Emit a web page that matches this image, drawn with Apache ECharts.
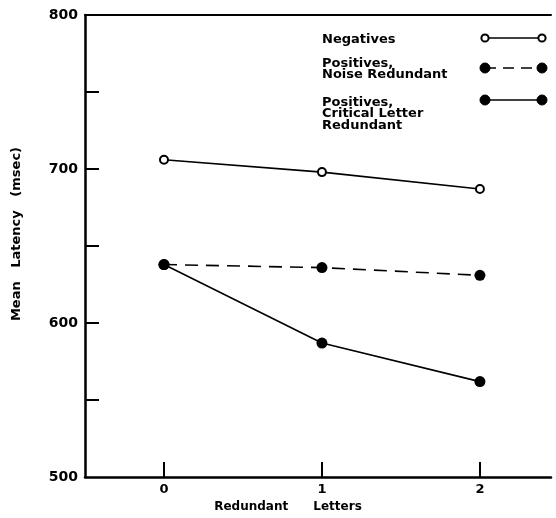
<!DOCTYPE html>
<html>
<head>
<meta charset="utf-8">
<script src="https://cdn.jsdelivr.net/npm/echarts@6/dist/echarts.min.js"></script>
<style>html,body{margin:0;padding:0;background:#fff;}#c{width:556px;height:518px;}</style>
</head>
<body>
<div id="c"></div>
<script>
const xValues = [0, 1, 2];
const negatives = [706, 698, 687];
const noiseRedundant = [638, 636, 631];
const criticalRedundant = [638, 587, 562];
const yTickValues = [550, 600, 650, 700, 750];
const yLabelValues = [500, 600, 700, 800];
const legendLabels = ['Negatives', 'Positives,\nNoise Redundant', 'Positives,\nCritical Letter\nRedundant'];

const FONT = '"DejaVu Sans", sans-serif';
const chart = echarts.init(document.getElementById('c'), null, {renderer: 'canvas'});

function pairs(vals) { return xValues.map((x, i) => [x, vals[i]]); }

const lineBase = {type: 'line', animation: false, silent: true};

const legendRows = [
  {text: legendLabels[0], ty: 33, sy: 38, dash: false, empty: true},
  {text: legendLabels[1], ty: 57, sy: 68, dash: true, empty: false},
  {text: legendLabels[2], ty: 96, sy: 100, dash: false, empty: false}
];
const graphic = [];
legendRows.forEach(r => {
  graphic.push({type: 'text', left: 322, top: r.ty, style: {text: r.text, font: 'bold 13px ' + FONT, lineHeight: 11.5, fill: '#000'}});
  graphic.push({type: 'line', shape: {x1: 485, y1: r.sy, x2: 542, y2: r.sy}, style: {stroke: '#000', lineWidth: 1.6, lineDash: r.dash ? [11, 7] : null}});
  [485, 542].forEach(cx => {
    graphic.push({type: 'circle', shape: {cx: cx, cy: r.sy, r: r.empty ? 3.6 : 5}, style: {fill: r.empty ? '#fff' : '#000', stroke: '#000', lineWidth: r.empty ? 2 : 1}});
  });
});

chart.setOption({
  backgroundColor: '#fff',
  animation: false,
  grid: {left: 85, right: 5, top: 15, bottom: 36, containLabel: false},
  xAxis: [{
    type: 'value', min: -0.5, max: 2.45, interval: 0.5,
    splitLine: {show: false},
    axisLine: {show: true, onZero: false, lineStyle: {color: '#000', width: 2.5}},
    axisTick: {show: true, inside: true, length: 15, customValues: xValues, lineStyle: {color: '#000', width: 2}},
    axisLabel: {customValues: xValues, color: '#000', fontFamily: FONT, fontWeight: 'bold', fontSize: 13, margin: 6},
    name: 'Redundant      Letters', nameLocation: 'middle', nameGap: 22,
    nameTextStyle: {color: '#000', fontFamily: FONT, fontWeight: 'bold', fontSize: 12, padding: [0, 60, 0, 0]}
  }, {
    type: 'value', position: 'top', min: -0.5, max: 2.45,
    splitLine: {show: false},
    axisLine: {show: true, onZero: false, lineStyle: {color: '#000', width: 2}},
    axisTick: {show: false}, axisLabel: {show: false}
  }],
  yAxis: {
    type: 'value', min: 500, max: 800, interval: 50,
    splitLine: {show: false},
    axisLine: {show: true, onZero: false, lineStyle: {color: '#000', width: 2.5}},
    axisTick: {show: true, inside: true, length: 14, customValues: yTickValues, lineStyle: {color: '#000', width: 2}},
    axisLabel: {customValues: yLabelValues, color: '#000', fontFamily: FONT, fontWeight: 'bold', fontSize: 14, margin: 7},
    name: 'Mean   Latency   (msec)', nameLocation: 'middle', nameGap: 62,
    nameTextStyle: {color: '#000', fontFamily: FONT, fontWeight: 'bold', fontSize: 13, padding: [0, 0, 0, 24]}
  },
  series: [
    Object.assign({}, lineBase, {name: legendLabels[0], data: pairs(negatives), symbol: 'emptyCircle', symbolSize: 8,
      lineStyle: {color: '#000', width: 1.6}, itemStyle: {color: '#000', borderColor: '#000', borderWidth: 2}}),
    Object.assign({}, lineBase, {name: legendLabels[1], data: pairs(noiseRedundant), symbol: 'circle', symbolSize: 11,
      lineStyle: {color: '#000', width: 1.6, type: [13, 8]}, itemStyle: {color: '#000'}}),
    Object.assign({}, lineBase, {name: legendLabels[2], data: pairs(criticalRedundant), symbol: 'circle', symbolSize: 11,
      lineStyle: {color: '#000', width: 1.6}, itemStyle: {color: '#000'}})
  ],
  graphic: graphic
});
</script>
</body>
</html>
